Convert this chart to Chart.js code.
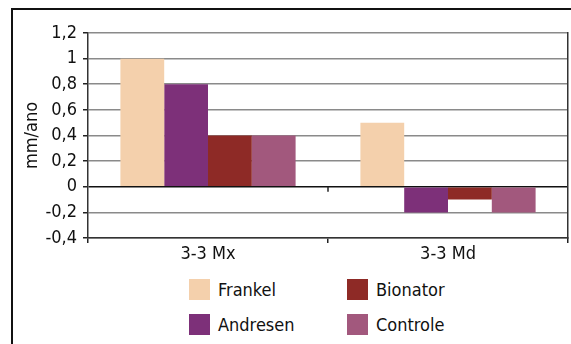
<!DOCTYPE html>
<html lang="pt">
<head>
    <meta charset="UTF-8">
    <title>mm/ano</title>
    <style>
        html, body { margin: 0; padding: 0; background: #fff; overflow: hidden; }
        body { width: 571px; height: 344px; position: relative; font-family: "Liberation Sans Narrow", "DejaVu Sans Condensed", Roboto, sans-serif; }
        /* outer frame, runs off the right and bottom edge like the original */
        .frame {
            position: absolute; left: 11px; top: 8px;
            width: 600px; height: 400px;
            border: 2px solid #111;
        }
        .chart-box { position: absolute; left: 0; top: 0; width: 571px; height: 270px; }
        .legend {
            position: absolute; left: 189px; top: 279px;
            display: grid;
            grid-template-rows: 21px 21px;
            grid-template-columns: 158px 150px;
            grid-auto-flow: column;
            row-gap: 14px;
            font-size: 18px; color: #111;
        }
        .legend .item { display: flex; align-items: center; }
        .legend .box { width: 21px; height: 21px; margin-right: 8px; }
    </style>
    <script src="https://cdn.jsdelivr.net/npm/chart.js"></script>
</head>
<body>
    <div class="frame"></div>
    <div class="chart-box"><canvas id="chart" width="571" height="270"></canvas></div>
    <div class="legend" id="legend"></div>
    <script>
        // data
        const categories = ['3-3 Mx', '3-3 Md'];
        const seriesNames = ['Frankel', 'Andresen', 'Bionator', 'Controle'];
        const frankel = [1.0, 0.5];
        const andresen = [0.8, -0.2];
        const bionator = [0.4, -0.1];
        const controle = [0.4, -0.2];
        const yTicks = [-0.4, -0.2, 0, 0.2, 0.4, 0.6, 0.8, 1, 1.2];

        const colors = ['#F4D0AC', '#7D3079', '#8E2A26', '#A2587D'];
        const values = [frankel, andresen, bionator, controle];
        const font = { family: '"Liberation Sans Narrow", "DejaVu Sans Condensed", Roboto, sans-serif', size: 18 };

        const fmt = v => String(+v.toFixed(1)).replace('.', ',');

        // small tick on the zero line at the category boundary (Excel draws the axis there)
        const zeroTick = {
            id: 'zeroTick',
            afterDatasetsDraw(chart) {
                const x = chart.scales.x, y = chart.scales.y;
                const ctx = chart.ctx;
                const y0 = y.getPixelForValue(0);
                ctx.save();
                ctx.strokeStyle = '#222';
                ctx.lineWidth = 1.5;
                for (let i = 1; i < categories.length; i++) {
                    const xb = (x.getPixelForValue(i - 1) + x.getPixelForValue(i)) / 2;
                    ctx.beginPath();
                    ctx.moveTo(xb, y0);
                    ctx.lineTo(xb, y0 + 5);
                    ctx.stroke();
                }
                ctx.restore();
            }
        };

        new Chart(document.getElementById('chart'), {
            type: 'bar',
            data: {
                labels: categories,
                datasets: seriesNames.map((name, i) => ({
                    label: name,
                    data: values[i],
                    backgroundColor: colors[i],
                    borderWidth: 0
                }))
            },
            options: {
                responsive: false,
                animation: false,
                layout: { padding: { top: 33, right: 1, left: 0, bottom: 0 } },
                plugins: { legend: { display: false }, tooltip: { enabled: false } },
                datasets: { bar: { categoryPercentage: 0.73, barPercentage: 1.0 } },
                scales: {
                    x: {
                        afterFit(s) { s.height = 32; },
                        grid: {
                            offset: true,
                            drawOnChartArea: false,
                            tickLength: 5,
                            color: '#222',
                            lineWidth: 1.5
                        },
                        border: { color: '#333', width: 1.5 },
                        ticks: { color: '#111', font: font, padding: 1 }
                    },
                    y: {
                        min: -0.4,
                        max: 1.2,
                        afterFit(s) { s.width = 88; },
                        afterBuildTicks(s) { s.ticks = yTicks.map(v => ({ value: v })); },
                        grid: {
                            color: c => c.tick && c.tick.value === 0 ? '#111' : '#8a8a8a',
                            lineWidth: 1.5,
                            tickLength: 5,
                            tickColor: '#222'
                        },
                        border: { color: '#333', width: 1.5 },
                        ticks: { color: '#111', font: font, padding: 6, callback: v => fmt(v) },
                        title: { display: true, text: 'mm/ano', color: '#111', font: font, padding: { top: 22, bottom: 0 } }
                    },
                    y2: {
                        position: 'right',
                        min: -0.4,
                        max: 1.2,
                        afterFit(s) { s.width = 2; },
                        grid: { display: false },
                        ticks: { display: false },
                        border: { color: '#333', width: 1.5 }
                    }
                }
            },
            plugins: [zeroTick]
        });

        // legend in two columns like the original
        const legend = document.getElementById('legend');
        seriesNames.forEach((name, i) => {
            const item = document.createElement('div');
            item.className = 'item';
            item.innerHTML = '<span class="box" style="background:' + colors[i] + '"></span>' + name;
            legend.appendChild(item);
        });
    </script>
</body>
</html>
